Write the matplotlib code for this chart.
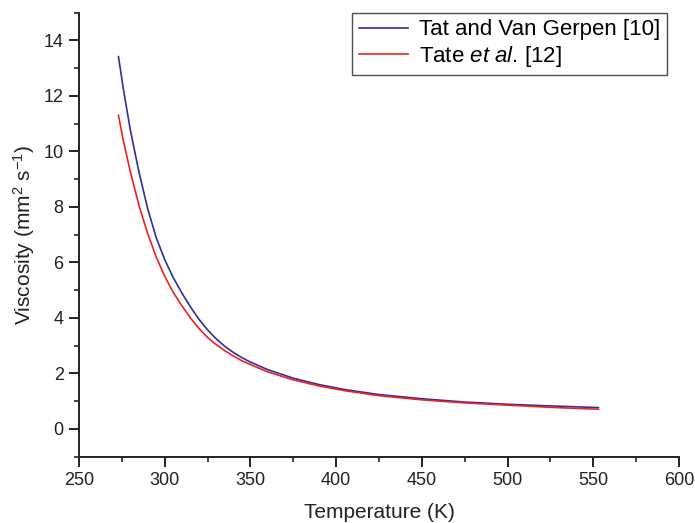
import matplotlib
matplotlib.use('Agg')
import matplotlib.pyplot as plt
from matplotlib.ticker import MultipleLocator

plt.rcParams['font.family'] = ['Liberation Sans', 'DejaVu Sans']
plt.rcParams['mathtext.fontset'] = 'custom'
plt.rcParams['mathtext.rm'] = 'Liberation Sans'
plt.rcParams['mathtext.it'] = 'Liberation Sans:italic'

# temperatures (K)
temperature = [273, 276, 280, 285, 290, 295, 300, 305, 310, 315, 320, 325, 330, 335,
               340, 345, 350, 360, 375, 390, 405, 425, 450, 475, 500, 525, 553]
# Tat and Van Gerpen [10]
visc_tat = [13.42, 12.2, 10.75, 9.25, 7.95, 6.9, 6.1, 5.45, 4.9, 4.4, 3.95, 3.57, 3.25, 2.98,
            2.76, 2.57, 2.41, 2.14, 1.83, 1.60, 1.42, 1.24, 1.09, 0.97, 0.89, 0.83, 0.77]
# Tate et al. [12]
visc_tate = [11.3, 10.35, 9.25, 8.05, 7.05, 6.2, 5.5, 4.92, 4.44, 4.0, 3.62, 3.3, 3.04, 2.82,
             2.63, 2.46, 2.32, 2.06, 1.77, 1.55, 1.38, 1.20, 1.05, 0.94, 0.86, 0.78, 0.71]

fig = plt.figure(figsize=(6.95, 5.23), dpi=100)
ax = fig.add_axes([0.1137, 0.1267, 0.8633, 0.849])

ax.plot(temperature, visc_tat, color='#2e2e9e', lw=1.2, label='Tat and Van Gerpen [10]')
ax.plot(temperature, visc_tate, color='#ee2020', lw=1.2, label='Tate $\\it{et\\ al}$. [12]')

ax.set_xlim(250, 600)
ax.set_ylim(-1, 15)
ax.xaxis.set_major_locator(MultipleLocator(50))
ax.xaxis.set_minor_locator(MultipleLocator(25))
ax.yaxis.set_major_locator(MultipleLocator(2))
ax.yaxis.set_minor_locator(MultipleLocator(1))

for s in ['top', 'right']:
    ax.spines[s].set_visible(False)
for s in ['left', 'bottom']:
    ax.spines[s].set_linewidth(1.4)
    ax.spines[s].set_color('#222222')

ax.tick_params(which='major', direction='out', length=7, width=1.4, colors='#222222',
               labelsize=13, pad=4)
ax.tick_params(which='minor', direction='out', length=3.5, width=1.2, colors='#222222')

ax.set_xlabel('Temperature (K)', fontsize=15, color='#222222', labelpad=10)
ax.set_ylabel('Viscosity (mm$^2$ s$^{-1}$)', fontsize=15, color='#222222', labelpad=5)

leg = ax.legend(loc='upper right', bbox_to_anchor=(0.98, 1.0), fontsize=16,
                frameon=True, fancybox=False, handlelength=2.2, handletextpad=0.5,
                borderpad=0.3, labelspacing=0.15, borderaxespad=0)
leg.get_frame().set_edgecolor('#222222')
leg.get_frame().set_linewidth(1.0)

fig.savefig('out.png', dpi=100)
plt.close(fig)
